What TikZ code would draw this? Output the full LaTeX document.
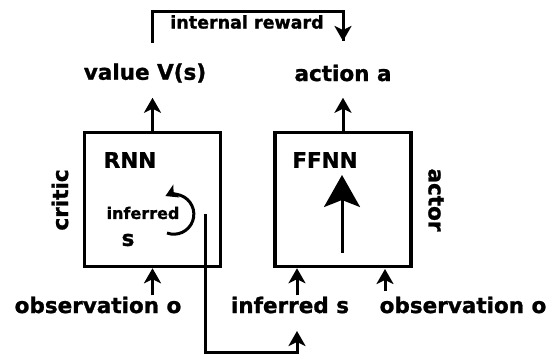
\documentclass[tikz,border=0pt]{standalone}
\usepackage{fontspec}
\setmainfont{DejaVu Sans}[BoldFeatures={FakeBold=1.2}]
\usetikzlibrary{arrows.meta}
\tikzset{
  lbl/.style={font=\bfseries\fontsize{21.5}{22}\selectfont, inner sep=1pt},
  netbox/.style={draw, line width=3.5pt, minimum width=136pt, minimum height=134pt},
  arr/.style={line width=3pt, -{Stealth[length=15pt,width=17pt,inset=4pt]}},
  wire/.style={line width=3pt}
}
\begin{document}
\begin{tikzpicture}[x=1pt,y=-1pt]

		\useasboundingbox (0,0) rectangle (557,358);

		\node[netbox] (critic) at (152.5,199.5) {};
		\node[netbox] (actor) at (343,199.5) {};

		\node[lbl] (value) at (145,73) {value V(s)};
		\node[lbl] (action) at (343,73) {action a};
		\node[lbl, rotate=90] (criticlbl) at (60,200) {critic};
		\node[lbl, rotate=-90] (actorlbl) at (436,200) {actor};

		\node[lbl] (rnn) at (130,160) {RNN};
		\node[lbl] (ffnn) at (325,160) {FFNN};
		\node[lbl, font=\bfseries\fontsize{16}{17}\selectfont] (inferred) at (143,213) {inferred};
		\node[lbl] (s) at (128,240) {s};

		\node[lbl] (obsL) at (98,305) {observation o};
		\node[lbl] (infs) at (290,305) {inferred s};
		\node[lbl] (obsR) at (463,305) {observation o};

		\node[lbl, font=\bfseries\fontsize{17.5}{18}\selectfont] (reward) at (247,22) {internal reward};

		\coordinate (rwA) at (152,43);
		\coordinate (rwB) at (343,41);
		\coordinate (tapA) at (205,214);
		\coordinate (tapB) at (297,331);

		\draw[arr] (critic.north) -- ++(0,-33);
		\draw[arr] (actor.north) -- ++(0,-33);
		\draw[arr] (critic.south |- obsL.north) -- (critic.south);
		\draw[arr] (tapB |- infs.north) -- (tapB |- actor.south);
		\draw[arr] (385,291) -- (385,269);

		\draw[wire] (rwA) -- (rwA |- 0,12) -| (rwB);
		\draw[arr] (343,24) -- (rwB);

		\draw[arr] (tapA) |- (tapB |- 0,352) -- (tapB);

		\draw[line width=3pt, -{Stealth[length=32pt,width=36pt,inset=7pt]}] (342,253) -- (342,175);

		\draw[arr, -{Stealth[length=12pt,width=14pt,inset=3pt]}] (167,233) arc[start angle=110, end angle=-115, radius=20];

	\end{tikzpicture}
\end{document}
